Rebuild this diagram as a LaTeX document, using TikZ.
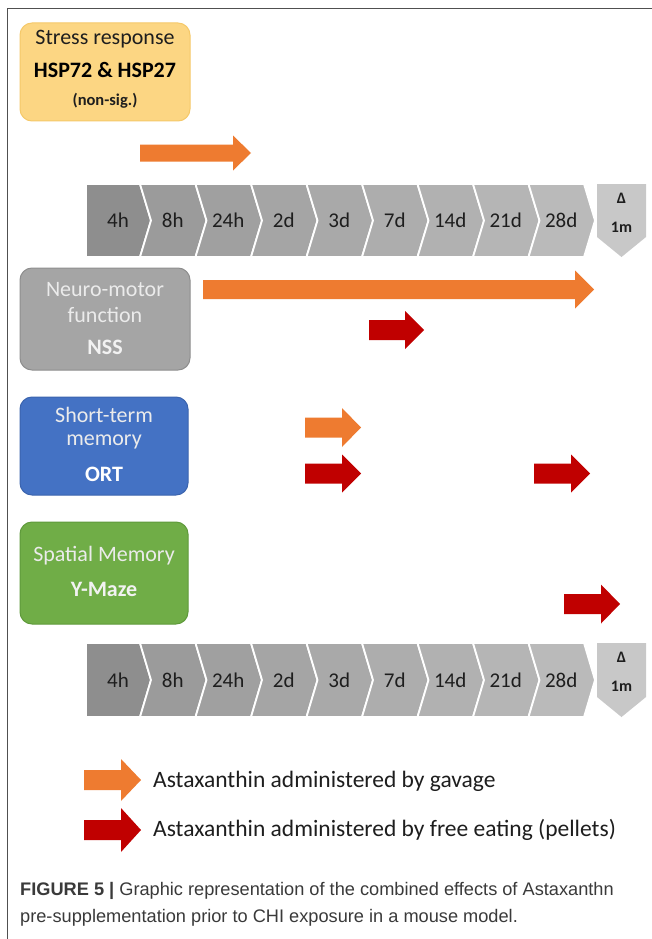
\documentclass[tikz,border=0pt]{standalone}
\usepackage{fontspec}
\setmainfont{Carlito}
\newfontfamily\capfont{Liberation Sans}
\definecolor{orng}{HTML}{EE7B30}
\definecolor{rred}{HTML}{C00000}
\definecolor{stressfill}{HTML}{FCD683}
\definecolor{stressdraw}{HTML}{F5C96A}
\definecolor{neurofill}{HTML}{A5A5A5}
\definecolor{neurodraw}{HTML}{8E8E8E}
\definecolor{ortfill}{HTML}{4472C4}
\definecolor{ortdraw}{HTML}{3B64AE}
\definecolor{ymfill}{HTML}{70AD47}
\definecolor{ymdraw}{HTML}{5F9A3B}
\definecolor{c0}{HTML}{8E8E8E}
\definecolor{c1}{HTML}{9B9B9B}
\definecolor{c2}{HTML}{A0A0A0}
\definecolor{c3}{HTML}{A5A5A5}
\definecolor{c4}{HTML}{A9A9A9}
\definecolor{c5}{HTML}{ADADAD}
\definecolor{c6}{HTML}{B1B1B1}
\definecolor{c7}{HTML}{B5B5B5}
\definecolor{c8}{HTML}{BABABA}
\definecolor{c9}{HTML}{C8C8C8}
\definecolor{tl}{HTML}{1E1E1E}
\definecolor{captxt}{HTML}{3A3A3A}
\definecolor{framecol}{HTML}{505050}
\tikzset{
  box/.style={rounded corners=12pt, line width=1pt, minimum width=170pt, inner sep=0pt},
  boxtxt/.style={inner sep=0pt, font=\fontsize{22}{26}\selectfont},
  boxbold/.style={inner sep=0pt, font=\fontsize{22}{26}\selectfont\bfseries},
  tlab/.style={inner sep=0pt, text=tl, font=\fontsize{21}{24}\selectfont},
  dlab/.style={inner sep=0pt, text=tl, font=\fontsize{16}{18}\selectfont\bfseries},
  legtxt/.style={inner sep=0pt, anchor=west, text=tl, font=\fontsize{23.5}{27}\selectfont},
  captxt/.style={inner sep=0pt, anchor=west, text=captxt, font=\capfont\fontsize{18.2}{21}\selectfont},
}
% block arrow: x start, x end, y centre, head start x, colour, shaft half, head half
\newcommand{\blockarrow}[7]{%
  \fill[#5] (#1,#3-#6) -- (#4,#3-#6) -- (#4,#3-#7) -- (#2,#3) -- (#4,#3+#7) -- (#4,#3+#6) -- (#1,#3+#6) -- cycle;}
% timeline: top y, bottom y, name prefix
\newcommand{\timeline}[3]{%
  \pgfmathsetmacro\ym{(#1+#2)/2}
  \foreach \i/\lab in {0/4h,1/8h,2/24h,3/2d,4/3d,5/7d,6/14d,7/21d,8/28d}{
    \pgfmathsetmacro\xl{\i==0 ? 86 : 84.5+55.5*\i}
    \pgfmathsetmacro\xr{140+55.5*\i}
    \pgfmathsetmacro\nd{\i==0 ? 0 : 11}
    \fill[c\i, draw=white, line width=1.8pt] (\xl,#1) -- (\xr,#1) -- (\xr+11,\ym) -- (\xr,#2) -- (\xl,#2) -- (\xl+\nd,\ym) -- cycle;
    \node[tlab] (#3\i) at ({(\xl+\xr)/2+5},\ym) {\lab};
  }
  \fill[c9] (597,#1) -- (646,#1) -- (646,#2-20) -- (621.5,#2) -- (597,#2-20) -- cycle;
  \node[dlab] (#3delta) at (621.5,#1+14) {Δ};
  \node[dlab] (#3month) at (621.5,#1+43) {1m};
}
\begin{document}
\begin{tikzpicture}[x=1pt,y=-1pt]
\useasboundingbox (0,0) rectangle (652,939);
\fill[white] (0,0) rectangle (652,939);
% frame
\draw[framecol, line width=1.6pt] (7.5,939) -- (7.5,8.5) -- (652,8.5);

% stress box
\node[box, fill=stressfill, draw=stressdraw, minimum height=98pt] (stress) at (105,72) {};
\node[boxtxt, text=tl] (stress1) at (105,39) {Stress response};
\node[boxbold, text=black] (stress2) at (105,70) {HSP72 \& HSP27};
\node[inner sep=0pt, text=tl, font=\fontsize{16.5}{18}\selectfont\bfseries] (stress3) at (105,101) {(non-sig.)};

\blockarrow{140}{251}{153}{233}{orng}{8.5}{17.5}

% timeline 1
\timeline{184}{257}{ta}

% neuro-motor
\node[box, fill=neurofill, draw=neurodraw, minimum height=102pt] (nss) at (105,319) {};
\node[boxtxt, text=white!92!black] (nss1) at (105,290) {Neuro-motor};
\node[boxtxt, text=white!92!black] (nss2) at (105,315) {function};
\node[boxbold, text=white!95!black] (nss3) at (105,347) {NSS};

\blockarrow{203}{594}{289.5}{575}{orng}{9.5}{19}
\blockarrow{369}{424}{330}{405}{rred}{10}{19}

% short-term memory
\node[box, fill=ortfill, draw=ortdraw, minimum width=168pt, minimum height=98pt] (ort) at (104,446) {};
\node[boxtxt, text=white!92!black] (ort1) at (104,415) {Short-term};
\node[boxtxt, text=white!92!black] (ort2) at (104,442) {memory};
\node[boxbold, text=white] (ort3) at (104,474) {ORT};

\blockarrow{305}{361}{427.5}{342}{orng}{10}{19.5}
\blockarrow{305}{361}{473.5}{342}{rred}{10}{19}
\blockarrow{534}{590}{473.5}{571}{rred}{10}{19}

% spatial memory
\node[box, fill=ymfill, draw=ymdraw, minimum width=168pt, minimum height=102pt] (ym) at (104,573) {};
\node[boxtxt, text=white!92!black] (ym1) at (104,556) {Spatial Memory};
\node[boxbold, text=white!95!black] (ym2) at (104,589) {Y-Maze};

\blockarrow{564}{620}{604}{601}{rred}{10}{19.5}

% timeline 2
\timeline{643}{717}{tb}

% legend
\blockarrow{84}{141}{780}{121}{orng}{10}{21}
\node[legtxt] (leg1) at (153,781) {Astaxanthin administered by gavage};
\blockarrow{84}{141}{830}{121}{rred}{10}{22}
\node[legtxt] (leg2) at (153,830) {Astaxanthin administered by free eating (pellets)};

% caption
\node[captxt] (cap1) at (20,891) {\textbf{FIGURE 5 |} Graphic representation of the combined effects of Astaxanthn};
\node[captxt] (cap2) at (20,918) {pre-supplementation prior to CHI exposure in a mouse model.};
\end{tikzpicture}
\end{document}
